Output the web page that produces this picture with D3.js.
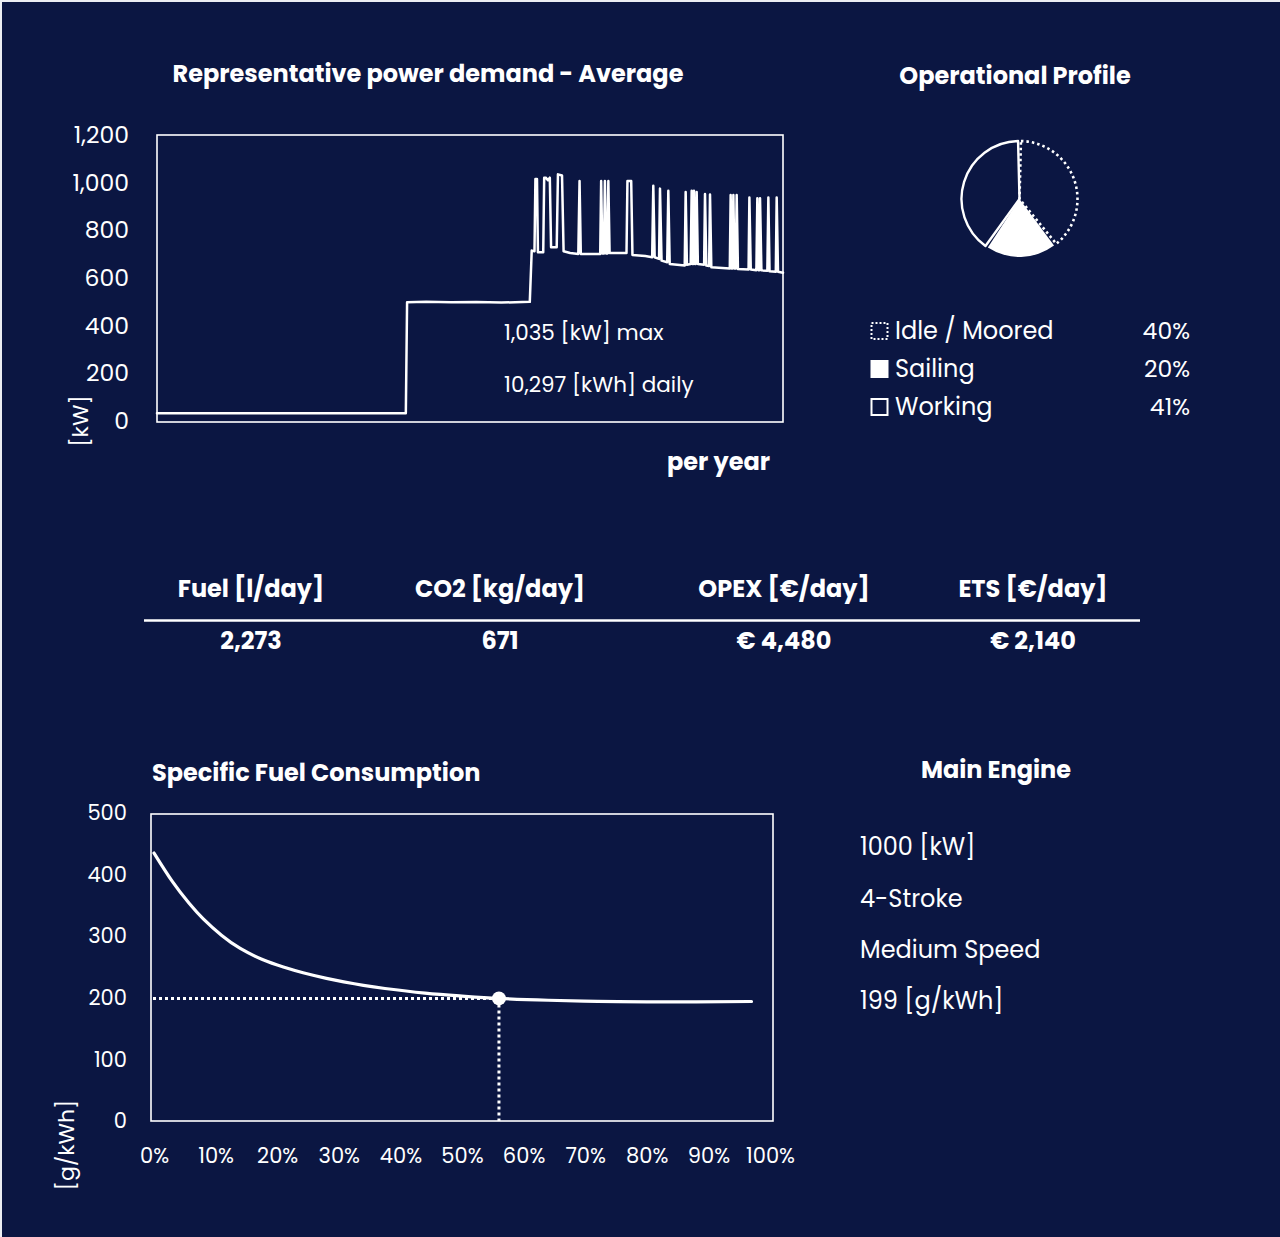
<!DOCTYPE html>
<html>
<head>
<meta charset="utf-8">
<script src="https://cdn.jsdelivr.net/npm/d3@7"></script>
<style>
  html, body { margin: 0; padding: 0; background: #eceef3; }
  svg { display: block; }
  text { font-family: Poppins, "Open Sans", "Noto Sans", sans-serif; fill: #ffffff; }
</style>
</head>
<body>
<svg id="sheet" width="1280" height="1237"></svg>
<script>
// ---- Power demand over a representative year (time in % of year, demand in kW)
const powerTime = [
  0, 4, 8, 12, 16, 20, 24, 28, 32, 36, 39.75,
  39.95, 43, 47, 51, 55, 59.55,
  59.86, 60.3, 60.45, 60.7, 60.85, 61.7, 61.85, 62.1, 62.45, 62.75, 62.95,
  63.85, 64.05, 64.7, 64.95, 66.0, 67.3, 67.5, 67.7, 70.8, 70.95, 71.15,
  71.4, 71.55, 71.75, 71.95, 72.1, 72.3, 75.0, 75.15, 75.75, 75.95, 78.0,
  79.1, 79.28, 79.5, 80.2, 80.35, 80.6, 81.5, 81.68, 81.9, 84.3, 84.45,
  84.65, 85.25, 85.41, 85.55, 85.65, 85.78, 85.95, 86.05, 86.21, 86.4, 87.4,
  87.54, 87.75, 88.2, 88.34, 88.55, 91.5, 91.64, 91.8, 91.92, 92.07, 92.25,
  92.45, 92.6, 92.8, 94.5, 94.63, 94.85, 95.75, 95.9, 96.1, 96.2, 96.33,
  96.55, 97.5, 97.66, 97.85, 98.85, 98.99, 99.2, 100
];
const powerKw = [
  33, 32, 33, 32, 33, 32, 33, 32, 33, 32, 33,
  498, 500, 498, 499, 497, 500,
  715, 712, 1015, 1015, 708, 708, 1021, 1021, 1010, 1021, 729,
  729, 1035, 1030, 712, 705, 701, 1007, 701, 701, 1007, 703,
  703, 1007, 703, 703, 1007, 705, 705, 1007, 1007, 697, 692,
  687, 987, 687, 680, 975, 673, 666, 966, 659, 652, 961,
  656, 659, 966, 659, 659, 966, 659, 659, 961, 659, 656,
  952, 652, 650, 950, 645, 640, 948, 640, 640, 948, 640,
  640, 948, 638, 636, 938, 636, 633, 935, 633, 633, 935,
  632, 630, 938, 628, 626, 938, 626, 622
];
const powerTicks = [0, 200, 400, 600, 800, 1000, 1200];
const peakKw = 1035;
const dailyKwh = 10297;

// ---- Operational profile
const profileModes = ["Idle / Moored", "Sailing", "Working"];
const profileShare = [40, 20, 41];

// ---- Daily key figures
const kpiHeaders = ["Fuel [l/day]", "CO2 [kg/day]", "OPEX [€/day]", "ETS [€/day]"];
const kpiValues = ["2,273", "671", "€ 4,480", "€ 2,140"];

// ---- Specific fuel consumption curve (engine load in %, g/kWh)
const sfcLoad  = [0, 3, 5.7, 8, 11, 14, 17.6, 21, 24.2, 28, 30.8, 34, 37.5, 44, 50, 56, 64, 72, 80, 88, 97];
const sfcValue = [435, 388.5, 353.4, 328.1, 301.1, 280.1, 262.1, 249.9, 240.6, 231.5, 225.8, 220.2, 215.1, 207.6, 202.8, 199, 196, 194.3, 193.4, 193.3, 194];
const sfcTicks = [0, 100, 200, 300, 400, 500];
const loadTicks = [0, 10, 20, 30, 40, 50, 60, 70, 80, 90, 100];
const operatingLoad = 56;
const operatingSfc = 199;

// ---- Main engine
const engineSpecs = ["1000 [kW]", "4-Stroke", "Medium Speed", "199 [g/kWh]"];

const NAVY = "#0b1642";
const svg = d3.select("#sheet");
svg.append("rect").attr("x", 2).attr("y", 2).attr("width", 1278).attr("height", 1235).attr("fill", NAVY);

const fmt = d3.format(",");

// ================= Power demand chart =================
const pw = { left: 157, right: 783, top: 135, bottom: 421 };
const xP = d3.scaleLinear().domain([0, 100]).range([pw.left, pw.right]);
const yP = d3.scaleLinear().domain([0, 1200]).range([pw.bottom, pw.top]);

svg.append("text").attr("x", 428).attr("y", 74).attr("dy", "0.35em")
  .attr("text-anchor", "middle").attr("font-size", 24).attr("font-weight", 700)
  .text("Representative power demand - Average");

svg.append("rect").attr("x", pw.left).attr("y", pw.top)
  .attr("width", pw.right - pw.left).attr("height", pw.bottom - pw.top + 1)
  .attr("fill", "none").attr("stroke", "#fff").attr("stroke-width", 1.6);

const gPy = svg.append("g").attr("transform", `translate(${pw.left},0)`)
  .call(d3.axisLeft(yP).tickValues(powerTicks).tickSize(0).tickPadding(28).tickFormat(fmt));
gPy.select(".domain").remove();
gPy.selectAll("text").attr("font-size", 23.5).attr("fill", "#fff").style("font-family", null);

svg.append("text").attr("transform", "translate(80,421) rotate(-90)").attr("dy", "0.35em")
  .attr("text-anchor", "middle").attr("font-size", 22).text("[kW]");

const powerPts = powerTime.map((t, i) => [t, powerKw[i]]);
svg.append("path").datum(powerPts)
  .attr("fill", "none").attr("stroke", "#fff").attr("stroke-width", 2.5)
  .attr("stroke-linejoin", "round").attr("stroke-linecap", "round")
  .attr("d", d3.line().x(d => xP(d[0])).y(d => yP(d[1])));

svg.append("text").attr("x", 504).attr("y", 332).attr("dy", "0.35em")
  .attr("font-size", 21.5).text(`${fmt(peakKw)} [kW] max`);
svg.append("text").attr("x", 504).attr("y", 384).attr("dy", "0.35em")
  .attr("font-size", 21.5).text(`${fmt(dailyKwh)} [kWh] daily`);

svg.append("text").attr("x", 770).attr("y", 462).attr("dy", "0.35em")
  .attr("text-anchor", "end").attr("font-size", 24).attr("font-weight", 700).text("per year");

// ================= Operational profile =================
svg.append("text").attr("x", 1015).attr("y", 76).attr("dy", "0.35em")
  .attr("text-anchor", "middle").attr("font-size", 24).attr("font-weight", 700)
  .text("Operational Profile");

const pie = d3.pie().sort(null).value(d => d).padAngle(0.05);
const arc = d3.arc().innerRadius(0).outerRadius(58);
const sliceStyle = [
  { fill: "none", stroke: "#fff", dash: "2.5,3", width: 2.6 },
  { fill: "#fff", stroke: "none", dash: null, width: 0 },
  { fill: "none", stroke: "#fff", dash: null, width: 2.4 }
];
svg.append("g").attr("transform", "translate(1019.5,199)")
  .selectAll("path").data(pie(profileShare)).join("path")
  .attr("d", arc)
  .attr("fill", (d, i) => sliceStyle[i].fill)
  .attr("stroke", (d, i) => sliceStyle[i].stroke)
  .attr("stroke-width", (d, i) => sliceStyle[i].width)
  .attr("stroke-dasharray", (d, i) => sliceStyle[i].dash)
  .attr("stroke-linejoin", "round");

const legendY = d3.scalePoint().domain(profileModes).range([331, 407]);
const lg = svg.append("g").selectAll("g").data(profileModes).join("g")
  .attr("transform", d => `translate(0,${legendY(d)})`);
lg.append("rect").attr("x", 871.5).attr("y", -8).attr("width", 16).attr("height", 16)
  .attr("fill", (d, i) => i === 1 ? "#fff" : "none")
  .attr("stroke", "#fff").attr("stroke-width", 2)
  .attr("stroke-dasharray", (d, i) => i === 0 ? "2,2" : null);
lg.append("text").attr("x", 895).attr("dy", "0.35em").attr("font-size", 24).text(d => d);
lg.append("text").attr("x", 1190).attr("dy", "0.35em").attr("text-anchor", "end")
  .attr("font-size", 23.5).text((d, i) => profileShare[i] + "%");

// ================= Key figures table =================
const colCenters = [251, 500, 784, 1033];
svg.append("g").selectAll("text").data(kpiHeaders).join("text")
  .attr("x", (d, i) => colCenters[i]).attr("y", 589).attr("dy", "0.35em")
  .attr("text-anchor", "middle").attr("font-size", 24).attr("font-weight", 700).text(d => d);
svg.append("line").attr("x1", 144).attr("x2", 1140).attr("y1", 620.5).attr("y2", 620.5)
  .attr("stroke", "#fff").attr("stroke-width", 2.6);
svg.append("g").selectAll("text").data(kpiValues).join("text")
  .attr("x", (d, i) => colCenters[i]).attr("y", 641).attr("dy", "0.35em")
  .attr("text-anchor", "middle").attr("font-size", 24).attr("font-weight", 700).text(d => d);

// ================= Specific fuel consumption =================
const sf = { left: 151, right: 773, top: 814, bottom: 1121 };
const xS = d3.scaleLinear().domain([0, 100]).range([154, 770]);
const yS = d3.scaleLinear().domain([0, 500]).range([1121, 813]);

svg.append("text").attr("x", 152).attr("y", 773).attr("dy", "0.35em")
  .attr("font-size", 24).attr("font-weight", 700).text("Specific Fuel Consumption");

svg.append("rect").attr("x", sf.left).attr("y", sf.top)
  .attr("width", sf.right - sf.left).attr("height", sf.bottom - sf.top)
  .attr("fill", "none").attr("stroke", "#fff").attr("stroke-width", 1.6);

const gSy = svg.append("g").attr("transform", `translate(${sf.left},0)`)
  .call(d3.axisLeft(yS).tickValues(sfcTicks).tickSize(0).tickPadding(24));
gSy.select(".domain").remove();
gSy.selectAll("text").attr("font-size", 21).attr("fill", "#fff").style("font-family", null);

const gSx = svg.append("g").attr("transform", `translate(0,${sf.bottom})`)
  .call(d3.axisBottom(xS).tickValues(loadTicks).tickSize(0).tickPadding(27).tickFormat(d => d + "%"));
gSx.select(".domain").remove();
gSx.selectAll("text").attr("font-size", 21).attr("fill", "#fff").style("font-family", null);

svg.append("text").attr("transform", "translate(66,1145) rotate(-90)").attr("dy", "0.35em")
  .attr("text-anchor", "middle").attr("font-size", 22).text("[g/kWh]");

// guide lines to the operating point
svg.append("line").attr("x1", sf.left + 2).attr("x2", xS(operatingLoad))
  .attr("y1", yS(operatingSfc)).attr("y2", yS(operatingSfc))
  .attr("stroke", "#fff").attr("stroke-width", 3).attr("stroke-dasharray", "3,3");
svg.append("line").attr("x1", xS(operatingLoad)).attr("x2", xS(operatingLoad))
  .attr("y1", yS(operatingSfc)).attr("y2", sf.bottom)
  .attr("stroke", "#fff").attr("stroke-width", 3).attr("stroke-dasharray", "3,3");

svg.append("path").datum(sfcLoad.map((l, i) => [l, sfcValue[i]]))
  .attr("fill", "none").attr("stroke", "#fff").attr("stroke-width", 3.2)
  .attr("stroke-linecap", "round")
  .attr("d", d3.line().curve(d3.curveNatural).x(d => xS(d[0])).y(d => yS(d[1])));

svg.append("circle").attr("cx", xS(operatingLoad)).attr("cy", yS(operatingSfc)).attr("r", 7)
  .attr("fill", "#fff");

// ================= Main engine =================
svg.append("text").attr("x", 996).attr("y", 770).attr("dy", "0.35em")
  .attr("text-anchor", "middle").attr("font-size", 24).attr("font-weight", 700).text("Main Engine");
const specY = d3.scalePoint().domain(engineSpecs).range([847, 1001]);
svg.append("g").selectAll("text").data(engineSpecs).join("text")
  .attr("x", 860).attr("y", d => specY(d)).attr("dy", "0.35em")
  .attr("font-size", 24).text(d => d);
</script>
</body>
</html>
